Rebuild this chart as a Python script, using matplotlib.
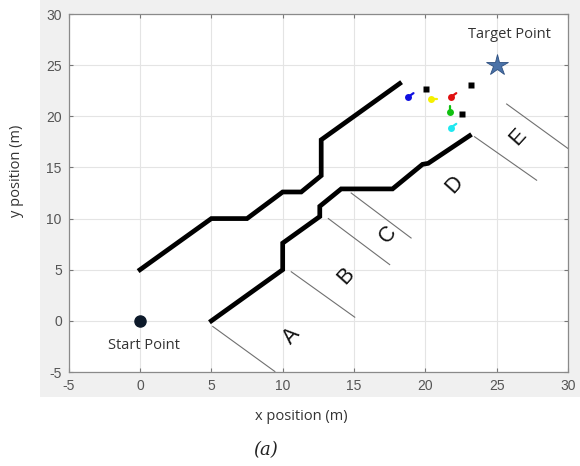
import numpy as np
import matplotlib
matplotlib.use("Agg")
import matplotlib.pyplot as plt
from matplotlib.patches import Rectangle

plt.rcParams["axes.unicode_minus"] = False

# waypoint paths (m)
upper_x = [0, 5, 7.5, 10, 11.3, 12.7, 12.7, 18.2]
upper_y = [5, 10, 10, 12.6, 12.6, 14.2, 17.7, 23.2]
lower_x = [5, 10, 10, 12.6, 12.6, 14.1, 17.7, 19.8, 20.2, 23.1]
lower_y = [0, 5, 7.6, 10.2, 11.2, 12.9, 12.9, 15.3, 15.4, 18.1]

# section boundaries (x0, y0, x1, y1)
bound_x0 = [5.1, 10.6, 13.2, 14.8, 23.45, 25.7]
bound_y0 = [-0.55, 4.8, 10.0, 12.5, 18.0, 21.2]
bound_x1 = [9.45, 15.05, 17.5, 19.0, 27.8, 30.0]
bound_y1 = [-4.95, 0.36, 5.5, 8.1, 13.75, 16.85]

sections = ["A", "B", "C", "D", "E"]
sec_x = [10.6, 14.4, 17.4, 22.05, 26.5]
sec_y = [-1.5, 4.4, 8.4, 13.3, 18.0]

# agents near the goal, with heading (deg)
agent_x = [18.8, 20.4, 21.8, 21.7, 21.8]
agent_y = [21.9, 21.7, 21.9, 20.4, 18.9]
agent_head = [35, 0, 35, 90, 35]
agent_col = ["#1010e0", "#f5f000", "#e01010", "#10c010", "#20e8f0"]

obs_x = [20.07, 23.2, 22.6]
obs_y = [22.7, 23.1, 20.2]

start = (0, 0)
target = (25, 25)

fig = plt.figure(figsize=(5.8, 4.66), dpi=100)
fig.patches.append(Rectangle((40 / 580, 1 - 397 / 466), 1, 1, transform=fig.transFigure,
                             facecolor="#f0f0f0", edgecolor="none", zorder=-10))

ax = fig.add_axes([68.7 / 580, 1 - 372 / 466, (568 - 68.7) / 580, (372 - 14) / 466])
ax.set_facecolor("white")
ax.set_xlim(-5, 30)
ax.set_ylim(-5, 30)
ax.set_xticks(np.arange(-5, 31, 5))
ax.set_yticks(np.arange(-5, 31, 5))
ax.grid(True, color="#e4e4e4", lw=0.8)
ax.set_axisbelow(True)
ax.tick_params(direction="in", length=3, top=True, right=True, colors="#777777",
               labelcolor="#555555", labelsize=10, pad=5)
for lab in ax.get_xticklabels() + ax.get_yticklabels():
    lab.set_fontfamily("Liberation Sans")
for s in ax.spines.values():
    s.set_color("#8a8a8a")
    s.set_linewidth(0.9)

for x0, y0, x1, y1 in zip(bound_x0, bound_y0, bound_x1, bound_y1):
    ax.plot([x0, x1], [y0, y1], color="#707070", lw=0.8)

ax.plot(upper_x, upper_y, color="black", lw=3.4, solid_joinstyle="miter")
ax.plot(lower_x, lower_y, color="black", lw=3.4, solid_joinstyle="miter")

for s, x, y in zip(sections, sec_x, sec_y):
    ax.text(x, y, s, rotation=48, fontsize=15.5, ha="center", va="center",
            family="Liberation Sans", color="#111111")

for x, y, h, c in zip(agent_x, agent_y, agent_head, agent_col):
    dx = 0.45 * np.cos(np.radians(h))
    dy = 0.45 * np.sin(np.radians(h)) * 1.4
    ax.plot([x, x + dx], [y, y + dy], color=c, lw=1.6, solid_capstyle="round")
    ax.plot(x, y, "o", color=c, ms=5, mec="none")

ax.plot(obs_x, obs_y, "s", color="black", ms=4, mec="none")

ax.plot(*start, "o", color="#0d1a2a", ms=8)
ax.plot(*target, "*", color="#4a72a8", mec="#2d4f80", ms=16, mew=0.6)
ax.text(0.3, -2.4, "Start Point", fontsize=10.5, family="Open Sans", color="#333333",
        ha="center", va="center")
ax.text(25.9, 28.0, "Target Point", fontsize=10.5, family="Open Sans", color="#333333",
        ha="center", va="center")

fig.text(301 / 580, 1 - 417 / 466, "x position (m)", fontsize=10.5, family="Open Sans",
         color="#333333", ha="center", va="center")
fig.text(17 / 580, 1 - 171 / 466, "y position (m)", fontsize=10.5, family="Open Sans",
         color="#333333", ha="center", va="center", rotation=90)
fig.text(266 / 580, 1 - 450 / 466, "(a)", fontsize=13, family="DejaVu Serif",
         style="italic", color="#222222", ha="center", va="center")

fig.savefig("out.png", dpi=100)
